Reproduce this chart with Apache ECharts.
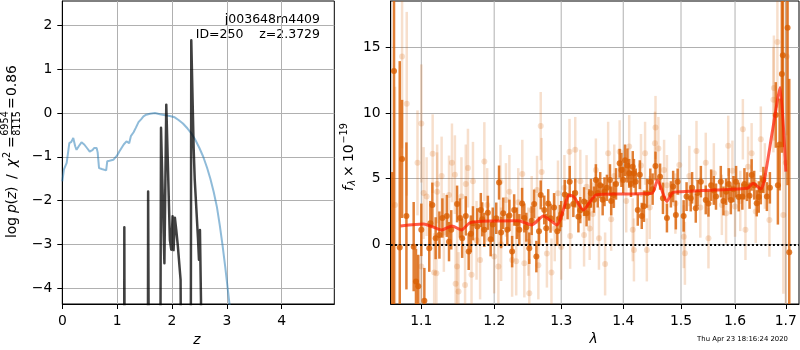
<!DOCTYPE html>
<html>
<head>
<meta charset="utf-8">
<script src="https://cdn.jsdelivr.net/npm/echarts@6/dist/echarts.min.js"></script>
<style>
  html, body { margin: 0; padding: 0; background: #fff; }
  #chart { width: 800px; height: 350px; }
</style>
</head>
<body>
<div id="chart"></div>
<script>
// left panel: redshift probability
var zBlue = [0, 0.03, 0.08, 0.128, 0.165, 0.2, 0.215, 0.235, 0.26, 0.3, 0.35, 0.4, 0.45, 0.5, 0.55, 0.58, 0.626, 0.645, 0.67, 0.72, 0.75, 0.8, 0.82, 0.86, 0.93, 1.0, 1.04, 1.08, 1.12, 1.17, 1.22, 1.25, 1.3, 1.34, 1.39, 1.44, 1.48, 1.53, 1.6, 1.69, 1.78, 1.88, 1.96, 2.05, 2.12, 2.2, 2.28, 2.35, 2.42, 2.5, 2.57, 2.64, 2.7, 2.76, 2.82, 2.87, 2.92, 2.97, 3.02, 3.08, 3.15];
var lnpBlue = [-1.56, -1.29, -1.14, -0.69, -0.66, -0.57, -0.6, -0.76, -0.84, -0.76, -0.67, -0.72, -0.8, -0.88, -0.85, -0.8, -0.8, -0.9, -1.26, -1.28, -1.28, -1.31, -1.1, -1.09, -1.07, -0.97, -0.88, -0.8, -0.72, -0.65, -0.69, -0.53, -0.44, -0.34, -0.21, -0.14, -0.08, -0.04, -0.02, 0.0, -0.03, -0.05, -0.07, -0.1, -0.16, -0.24, -0.35, -0.46, -0.6, -0.8, -1.0, -1.25, -1.5, -1.8, -2.15, -2.55, -3.0, -3.5, -4.05, -4.7, -5.5];

// -12 = far below the axis (p ~ 0)
var zBlack = [1.00, 1.126, 1.131, 1.141, 1.146, 1.555, 1.565, 1.590, 1.598, 1.775, 1.800, 1.812, 1.862, 1.896, 1.906, 1.962, 1.987, 2.011, 2.029, 2.053, 2.078, 2.108, 2.157, 2.19, 2.335, 2.352, 2.375, 2.395, 2.415, 2.474, 2.492, 2.51, 2.529, 2.54, 3.0];
var lnpBlack = [-12, -12, -2.61, -2.61, -12, -12, -1.79, -1.79, -12, -12, -0.34, -0.34, -3.43, 0.19, 0.19, -2.9, -3.12, -2.36, -3.13, -2.39, -2.67, -3.05, -3.81, -12, -12, 1.66, 1.62, -0.8, -1.52, -2.86, -3.35, -2.67, -4.26, -12, -12];

var zTicks = [0, 1, 2, 3, 4];
var lnpTicks = [-4, -3, -2, -1, 0, 1, 2];

// right panel: spectrum
var lamDark = [
  1.0625, 1.0647, 1.072, 1.075, 1.0806, 1.090, 1.093, 1.096, 1.100, 1.104,
  1.1105, 1.112, 1.1146, 1.119, 1.124, 1.128, 1.134, 1.137, 1.140, 1.148,
  1.152, 1.155, 1.160, 1.164, 1.167, 1.170, 1.176, 1.181, 1.183, 1.186,
  1.191, 1.195, 1.198, 1.203, 1.207, 1.210, 1.213, 1.219, 1.222, 1.226,
  1.229, 1.233, 1.2366, 1.2407, 1.244, 1.247, 1.2514, 1.255, 1.2587, 1.262,
  1.266, 1.2686, 1.274, 1.277, 1.280, 1.2836, 1.289, 1.294, 1.298, 1.300,
  1.3056, 1.310, 1.3133, 1.319, 1.322, 1.327, 1.330, 1.336, 1.340, 1.344,
  1.347, 1.352, 1.355, 1.358, 1.362, 1.366, 1.369, 1.373, 1.378, 1.380,
  1.384, 1.388, 1.394, 1.397, 1.400, 1.403, 1.407, 1.410, 1.413, 1.416,
  1.418, 1.421, 1.4245, 1.428, 1.4313, 1.435, 1.4403, 1.446, 1.450, 1.455,
  1.463, 1.468, 1.475, 1.482, 1.486, 1.4908, 1.494, 1.5047, 1.510, 1.5175,
  1.520, 1.5267, 1.530, 1.536, 1.545, 1.550, 1.555, 1.560, 1.564, 1.573,
  1.578, 1.583, 1.588, 1.592, 1.597, 1.602, 1.607, 1.614, 1.618, 1.623,
  1.628, 1.632, 1.637, 1.642, 1.646, 1.650, 1.655, 1.662, 1.668, 1.6798,
  1.684, 1.6875, 1.692, 1.694, 1.7036, 1.707
];
var fluxDark = [
  -8.5, 13.2, -0.25, 6.5, 2.16, -0.18, -2.84, -3.2, 1.1, -4.3,
  -0.3, 1.6, 3.0, 0.46, 0.7, 2.0, 2.16, 0.2, 1.1, 3.07,
  2.0, 0.46, 2.16, -0.56, 0.8, 1.6, 1.35, 2.61, 1.9, 1.1,
  2.4, 0.38, 1.5, 1.98, 4.7, 0.9, 2.36, 1.1, 2.2, -0.56,
  2.61, 1.6, 1.1, 3.1, 2.0, 1.3, -0.3, 1.8, 3.07, -0.94,
  1.0, 3.76, 2.61, 1.22, 3.1, 1.98, 2.8, 1.0, 2.0, 2.3,
  3.8, 2.9, 4.77, 3.07, 3.9, 2.1, 2.6, 3.25, 2.36, 3.0,
  3.88, 3.4, 4.9, 3.9, 4.5, 3.4, 4.0, 4.3, 4.9, 3.3,
  3.76, 4.6, 6.17, 5.66, 4.9, 6.4, 6.0, 5.4, 4.6, 5.9,
  5.4, 4.77, 2.61, 5.3, 2.16, 2.9, 3.88, 4.77, 4.2, 5.96,
  5.15, 3.5, 2.0, 3.8, 4.4, 2.23, 4.77, 2.16, 3.63, 3.5,
  4.3, 2.74, 3.9, 4.77, 3.38, 3.1, 4.5, 4.1, 3.63, 4.77,
  3.3, 4.0, 4.6, 3.38, 4.2, 4.77, 3.6, 3.63, 4.6, 4.39,
  3.7, 5.28, 4.5, 3.12, 3.6, 4.14, 4.9, 3.63, 4.3, 9.85,
  4.5, 7.6, 12.97, 14.4, 16.5, -0.6
];
var errDark = [
  14, 19, 14.2, 4.5, 5.6, 3.4, 2.5, 2.4, 2.0, 2.5,
  1.8, 1.7, 1.7, 1.6, 1.8, 1.5, 1.6, 1.5, 1.5, 1.4,
  1.5, 1.5, 1.5, 1.4, 1.4, 1.3, 1.4, 1.3, 1.3, 1.3,
  1.3, 1.3, 1.3, 1.2, 1.3, 1.2, 1.2, 1.2, 1.2, 1.2,
  1.2, 1.2, 1.2, 1.2, 1.1, 1.1, 1.2, 1.1, 1.1, 1.2,
  1.1, 1.1, 1.1, 1.1, 1.1, 1.1, 1.1, 1.1, 1.0, 1.0,
  1.1, 1.0, 1.2, 1.0, 1.1, 1.2, 1.0, 1.1, 1.0, 1.2,
  1.1, 1.0, 1.2, 1.1, 1.0, 1.2, 1.1, 1.0, 1.2, 1.1,
  1.0, 1.2, 1.1, 1.3, 1.0, 1.2, 1.3, 1.1, 1.0, 1.2,
  1.1, 1.0, 1.2, 1.1, 1.0, 1.2, 1.1, 1.0, 1.2, 1.1,
  1.0, 1.2, 1.1, 1.0, 1.2, 1.1, 1.0, 1.2, 1.1, 1.0,
  1.2, 1.1, 1.0, 1.2, 1.1, 1.0, 1.2, 1.1, 1.0, 1.2,
  1.1, 1.0, 1.2, 1.1, 1.0, 1.2, 1.1, 1.0, 1.2, 1.1,
  1.0, 1.2, 1.1, 1.0, 1.2, 1.1, 1.0, 1.1, 1.2, 2.5,
  3.0, 3.5, 6, 7, 12, 13.2
];

var lamLight = [
  1.066, 1.075, 1.081, 1.095, 1.100, 1.100, 1.103, 1.107, 1.115, 1.117,
  1.120, 1.121, 1.121, 1.127, 1.130, 1.137, 1.141, 1.145, 1.146, 1.148,
  1.150, 1.154, 1.159, 1.160, 1.163, 1.168, 1.170, 1.175, 1.180, 1.186,
  1.190, 1.200, 1.206, 1.209, 1.210, 1.217, 1.222, 1.226, 1.232, 1.235,
  1.241, 1.244, 1.250, 1.2514, 1.255, 1.263, 1.265, 1.2686, 1.270, 1.278,
  1.285, 1.290, 1.295, 1.300, 1.305, 1.313, 1.314, 1.322, 1.330, 1.336,
  1.340, 1.345, 1.350, 1.355, 1.360, 1.370, 1.375, 1.380, 1.385, 1.394,
  1.405, 1.410, 1.416, 1.418, 1.430, 1.437, 1.440, 1.445, 1.454, 1.455,
  1.460, 1.470, 1.475, 1.490, 1.497, 1.505, 1.507, 1.515, 1.528, 1.535,
  1.545, 1.550, 1.560, 1.575, 1.583, 1.587, 1.595, 1.600, 1.610, 1.615,
  1.620, 1.625, 1.632, 1.640, 1.650, 1.658, 1.667, 1.675, 1.676, 1.683,
  1.695, 1.700, 1.702
];
var fluxLight = [
  3.0, 14.3, 10.7, 6.2, 9.2, -1.7, 3.9, 3.63, 6.9, -2.16,
  -2.2, 4.6, 4.0, 5.2, 0.9, 3.76, 6.2, 5.3, -3.0, -1.7,
  -3.6, 3.63, -3.1, 4.6, 5.8, -2.33, 4.8, 0.3, -1.2, 6.3,
  3.0, -0.94, -1.7, 4.77, 0.0, 3.38, 4.0, -1.2, -1.3, 3.2,
  5.36, -1.45, 0.2, -3.73, 2.6, 4.14, -1.6, 9.0, 5.5, -0.7,
  -2.16, 1.2, 3.88, -0.2, 4.3, 7.05, 0.63, 7.2, 4.8, 0.7,
  4.39, 1.2, 2.3, 5.66, 0.46, -1.5, 6.93, 1.9, 5.2, 7.05,
  3.3, 7.44, 1.1, -0.43, 6.0, 6.93, -0.43, 2.8, 7.7, 8.9,
  7.3, 5.66, 4.5, 3.1, 6.04, 0.58, -0.69, 5.2, 7.1, 2.8,
  6.2, 0.46, 5.4, 3.0, 2.36, 7.5, 5.6, 2.87, 3.3, 8.76,
  1.1, 5.9, 6.93, 2.5, 8.0, 5.2, 1.85, 11.0, 11.9, 15.4,
  2.23, 6.2, 14.3
];
var errLight = [
  9, 7, 7, 4, 4.5, 3.5, 3.5, 3, 3, 3,
  3, 3, 3, 3, 3, 3, 3, 3, 3, 3,
  3, 3, 3, 3, 3, 3, 3, 3, 3, 3,
  2.8, 2.8, 2.8, 2.8, 2.8, 2.8, 2.8, 2.8, 2.6, 2.6,
  2.6, 2.6, 2.6, 2.6, 2.6, 2.6, 2.6, 2.6, 2.6, 2.6,
  2.6, 2.5, 2.5, 2.5, 2.5, 2.5, 2.5, 2.5, 2.4, 2.4,
  2.4, 2.4, 2.4, 2.4, 2.4, 2.4, 2.4, 2.4, 2.4, 2.4,
  2.4, 2.4, 2.4, 2.4, 2.4, 2.4, 2.4, 2.4, 2.4, 2.4,
  2.4, 2.3, 2.3, 2.3, 2.3, 2.4, 2.4, 2.3, 2.3, 2.3,
  2.3, 2.3, 2.3, 2.3, 2.3, 2.3, 2.3, 2.3, 2.3, 2.3,
  2.3, 2.3, 2.3, 2.4, 2.5, 2.5, 2.8, 4, 4, 5,
  6, 25, 6
];

var lamModel = [1.073, 1.103, 1.127, 1.141, 1.154, 1.166, 1.196, 1.235, 1.255, 1.2726, 1.2932, 1.3128, 1.320, 1.335, 1.3553, 1.400, 1.449, 1.4584, 1.4748, 1.4847, 1.500, 1.562, 1.6237, 1.6345, 1.650, 1.657, 1.673, 1.6885, 1.700];
var fluxModel = [1.40, 1.55, 1.09, 1.40, 1.09, 1.65, 1.78, 1.80, 1.47, 2.16, 1.47, 3.76, 3.6, 2.61, 3.76, 3.83, 3.88, 4.9, 3.25, 3.93, 4.0, 4.14, 4.26, 4.64, 4.21, 4.9, 8.6, 11.95, 5.53];

var lamTicks = [1.1, 1.2, 1.3, 1.4, 1.5, 1.6, 1.7];
var fluxTicks = [0, 5, 10, 15];

var FONT = '"DejaVu Sans", sans-serif';
var LAM_MIN = 1.0605, LAM_MAX = 1.727;
var F_MIN = -4.55, F_MAX = 18.53;
var ORANGE = '217,95,2';

function pairs(a, b) { return a.map(function (v, i) { return [v, b[i]]; }); }
function lnPts(lam, f, e) {
  return lam.map(function (l, i) { return e ? [Math.log(l), f[i], e[i]] : [Math.log(l), f[i]]; });
}
function minus(v) { return v < 0 ? '\u2212' + Math.abs(v) : String(v); }

function errBars(color, width) {
  return function (params, api) {
    var x = api.value(0), y = api.value(1), e = api.value(2);
    var lo = Math.max(y - e, F_MIN), hi = Math.min(y + e, F_MAX);
    if (hi <= lo) return null;
    var p1 = api.coord([x, lo]), p2 = api.coord([x, hi]);
    return { type: 'line', shape: { x1: p1[0], y1: p1[1], x2: p2[0], y2: p2[1] },
      style: { stroke: color, lineWidth: width } };
  };
}

function vGrid(params, api) {
  var p = api.coord([api.value(0), 0]);
  var cs = params.coordSys;
  return { type: 'line', shape: { x1: p[0], y1: cs.y, x2: p[0], y2: cs.y + cs.height },
    style: { stroke: '#b0b0b0', lineWidth: 1 } };
}

var tickStyle = { show: true, length: 5, inside: false, lineStyle: { color: '#000', width: 1 } };
var labelStyle = { color: '#000', fontSize: 13.9, fontFamily: FONT };
var gridLine = { show: true, lineStyle: { color: '#b0b0b0', width: 1 } };
var axisLine = { show: true, onZero: false, lineStyle: { color: '#000', width: 1 } };

function txt(x, y, s, size, opts) {
  opts = opts || {};
  return { type: 'text', x: x, y: y, silent: true,
    style: { text: s, fill: '#000', font: (opts.italic ? 'italic ' : '') + size + 'px ' + FONT,
      textAlign: opts.align || 'left', align: opts.align || 'left',
      textVerticalAlign: 'middle', verticalAlign: 'middle' } };
}

var chart = echarts.init(document.getElementById('chart'), null, { renderer: 'canvas' });

chart.setOption({
  animation: false,
  backgroundColor: '#fff',
  grid: [
    { left: 62.3, top: 1, width: 272, height: 303, show: true, borderColor: '#000', borderWidth: 1 },
    { left: 390.7, top: 1, width: 408.3, height: 303, show: true, borderColor: '#000', borderWidth: 1 }
  ],
  xAxis: [
    { type: 'value', gridIndex: 0, min: 0, max: 4.96,
      axisLine: axisLine, axisTick: Object.assign({ customValues: zTicks }, tickStyle),
      axisLabel: Object.assign({ customValues: zTicks, margin: 10, formatter: minus }, labelStyle),
      splitLine: gridLine },
    { type: 'value', gridIndex: 1, min: Math.log(LAM_MIN), max: Math.log(LAM_MAX),
      axisLine: axisLine, axisTick: Object.assign({ customValues: lamTicks.map(Math.log) }, tickStyle),
      axisLabel: Object.assign({ customValues: lamTicks.map(Math.log), margin: 10,
        formatter: function (v) { return Math.exp(v).toFixed(1); } }, labelStyle),
      splitLine: { show: false } }
  ],
  yAxis: [
    { type: 'value', gridIndex: 0, min: -4.36, max: 2.555,
      axisLine: axisLine, axisTick: Object.assign({ customValues: lnpTicks }, tickStyle),
      axisLabel: Object.assign({ customValues: lnpTicks, margin: 10, formatter: minus }, labelStyle),
      splitLine: gridLine },
    { type: 'value', gridIndex: 1, min: F_MIN, max: F_MAX,
      axisLine: axisLine, axisTick: Object.assign({ customValues: fluxTicks }, tickStyle),
      axisLabel: Object.assign({ customValues: fluxTicks, margin: 10, formatter: minus }, labelStyle),
      splitLine: gridLine }
  ],
  series: [
    { type: 'line', xAxisIndex: 0, yAxisIndex: 0, data: pairs(zBlue, lnpBlue), showSymbol: false,
      lineStyle: { color: 'rgba(31,119,180,0.5)', width: 2 }, z: 2 },
    { type: 'line', xAxisIndex: 0, yAxisIndex: 0, data: pairs(zBlack, lnpBlack), showSymbol: false,
      lineStyle: { color: 'rgba(0,0,0,0.75)', width: 2.5, join: 'round' }, z: 3 },
    { type: 'custom', xAxisIndex: 1, yAxisIndex: 1, data: lamTicks.map(function (l) { return [Math.log(l)]; }),
      renderItem: vGrid, silent: true, z: 1 },
    { type: 'custom', xAxisIndex: 1, yAxisIndex: 1, data: lnPts(lamLight, fluxLight, errLight),
      renderItem: errBars('rgba(' + ORANGE + ',0.2)', 2.5), silent: true, z: 2 },
    { type: 'scatter', xAxisIndex: 1, yAxisIndex: 1, data: lnPts(lamLight, fluxLight), symbolSize: 6,
      itemStyle: { color: 'rgba(' + ORANGE + ',0.25)' }, silent: true, z: 3 },
    { type: 'custom', xAxisIndex: 1, yAxisIndex: 1, data: lnPts(lamDark, fluxDark, errDark),
      renderItem: errBars('rgba(' + ORANGE + ',0.8)', 2.5), silent: true, z: 4 },
    { type: 'scatter', xAxisIndex: 1, yAxisIndex: 1, data: lnPts(lamDark, fluxDark), symbolSize: 6,
      itemStyle: { color: 'rgb(' + ORANGE + ')' }, silent: true, z: 5 },
    { type: 'line', xAxisIndex: 1, yAxisIndex: 1, data: lnPts(lamModel, fluxModel), showSymbol: false,
      smooth: 0.2,
      lineStyle: { color: 'rgba(255,25,0,0.7)', width: 3, join: 'round' }, z: 6,
      markLine: { silent: true, symbol: 'none', label: { show: false },
        lineStyle: { color: '#000', type: [2, 2.2], width: 2 },
        data: [{ yAxis: 0 }] } }
  ],
  graphic: [
    txt(320, 20, 'j003648m4409', 12.5, { align: 'right' }),
    txt(320, 34.5, 'ID=250    z=2.3729', 12.5, { align: 'right' }),
    txt(197, 340, 'z', 13.9, { italic: true, align: 'center' }),
    txt(593.5, 339.5, '\u03bb', 13.9, { italic: true, align: 'center' }),
    txt(788, 339.5, 'Thu Apr 23 18:16:24 2020', 6.9, { align: 'right' }),
    { type: 'group', x: 12, y: 152, rotation: Math.PI / 2, silent: true, children: [
      txt(-86, 0, 'log', 13.9),
      txt(-61, 0, 'p', 13.9, { italic: true }),
      txt(-52.5, 0, '(', 13.9),
      txt(-47, 0, 'z', 13.9, { italic: true }),
      txt(-40, 0, ')', 13.9),
      txt(-27, 0, '/', 13.9),
      txt(-15, 0, '\u03c7', 13.9, { italic: true }),
      txt(-6, -5, '2', 9.7),
      txt(4, 0, '=', 13.9),
      txt(28.5, -6.5, '6954', 9.7, { align: 'center' }),
      txt(28.5, 5.5, '8115', 9.7, { align: 'center' }),
      { type: 'line', shape: { x1: 17.5, y1: -0.5, x2: 39.5, y2: -0.5 }, style: { stroke: '#000', lineWidth: 0.8 } },
      txt(43, 0, '=', 13.9),
      txt(56, 0, '0.86', 13.9)
    ] },
    { type: 'group', x: 349, y: 156, rotation: Math.PI / 2, silent: true, children: [
      txt(-35, 0, 'f', 13.9, { italic: true }),
      txt(-29.5, 3.5, '\u03bb', 9.7, { italic: true }),
      txt(-21, 0, '\u00d7', 13.9),
      txt(-6, 0, '10', 13.9),
      txt(12.5, -4.5, '\u221219', 9.7)
    ] }
  ]
});
</script>
</body>
</html>
